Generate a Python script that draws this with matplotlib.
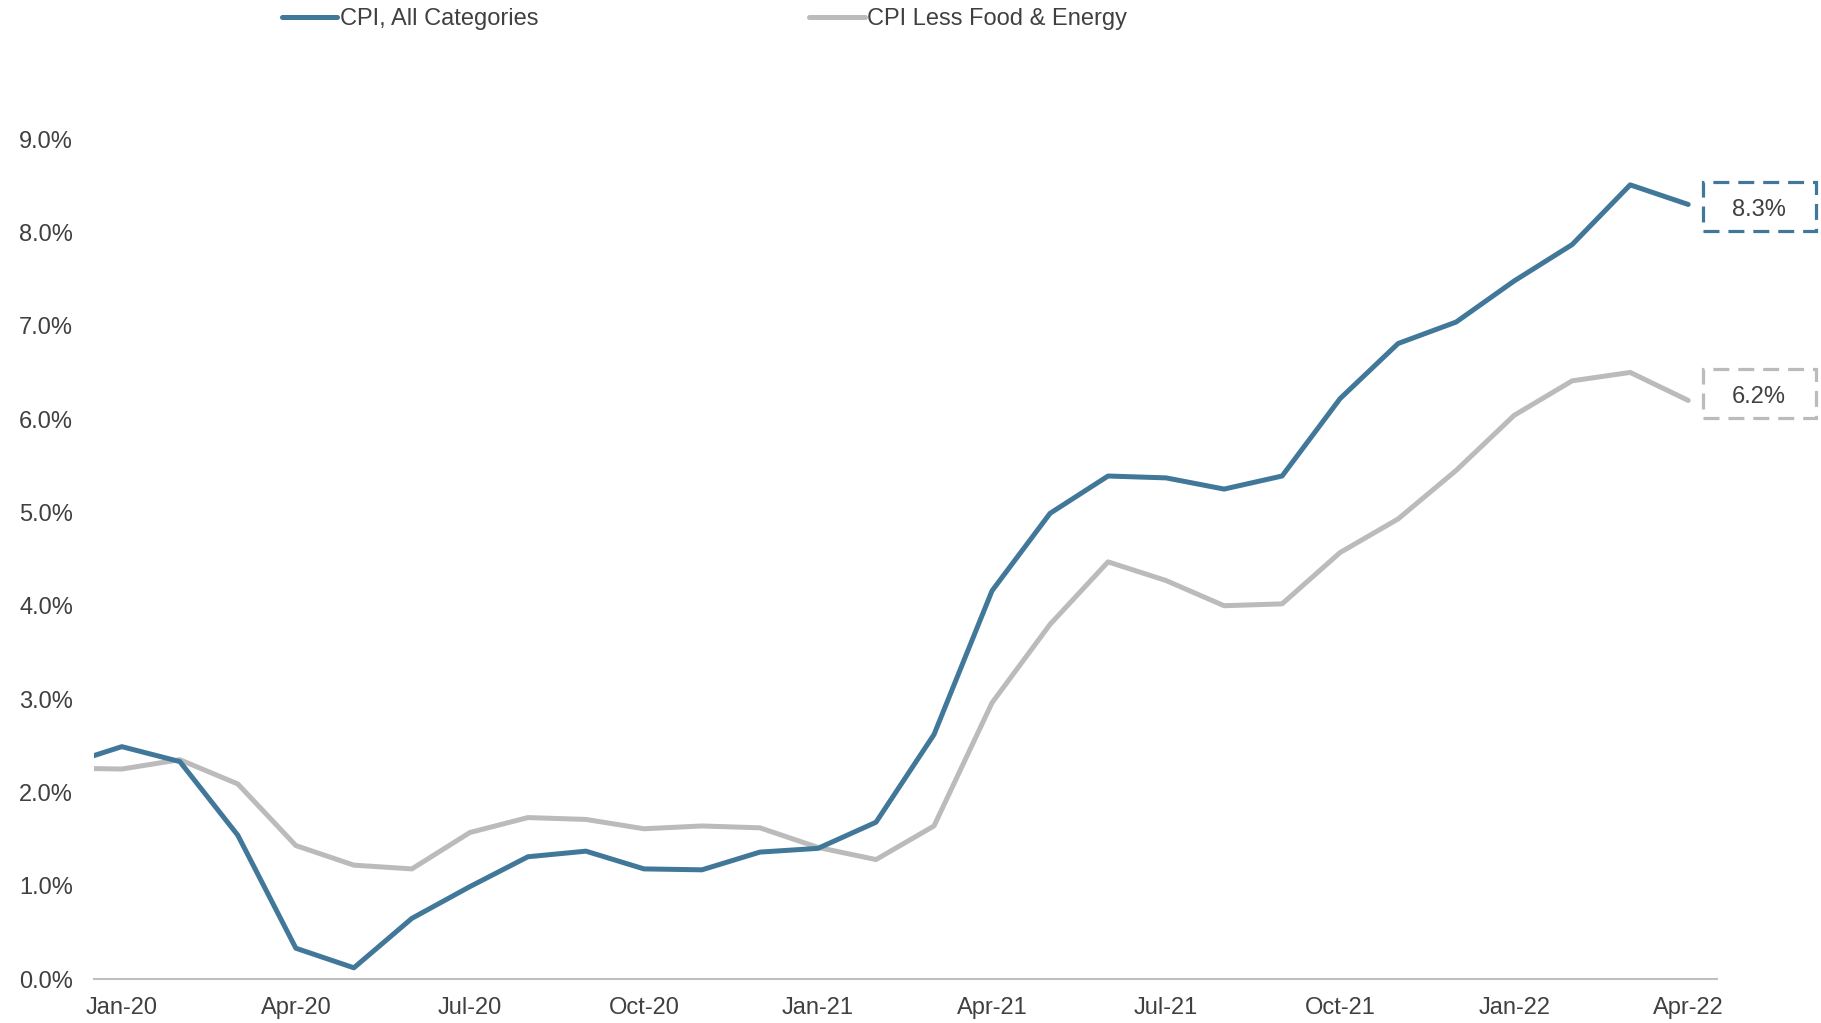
import matplotlib
matplotlib.use("Agg")
import matplotlib.pyplot as plt
from matplotlib.ticker import FuncFormatter
from matplotlib.patches import Rectangle
from matplotlib.transforms import IdentityTransform

plt.rcParams['font.family'] = ['Liberation Sans', 'DejaVu Sans']

# monthly data, Dec-19 .. Apr-22 (Dec-19 only used so the line runs into the left edge)
months = ["Dec-19",
          "Jan-20", "Feb-20", "Mar-20", "Apr-20", "May-20", "Jun-20", "Jul-20", "Aug-20",
          "Sep-20", "Oct-20", "Nov-20", "Dec-20",
          "Jan-21", "Feb-21", "Mar-21", "Apr-21", "May-21", "Jun-21", "Jul-21", "Aug-21",
          "Sep-21", "Oct-21", "Nov-21", "Dec-21",
          "Jan-22", "Feb-22", "Mar-22", "Apr-22"]
cpi_all = [2.29,
           2.49, 2.33, 1.54, 0.33, 0.12, 0.65, 0.99, 1.31, 1.37, 1.18, 1.17, 1.36,
           1.40, 1.68, 2.62, 4.16, 4.99, 5.39, 5.37, 5.25, 5.39, 6.22, 6.81, 7.04,
           7.48, 7.87, 8.51, 8.30]
cpi_core = [2.26,
            2.25, 2.35, 2.09, 1.43, 1.22, 1.18, 1.57, 1.73, 1.71, 1.61, 1.64, 1.62,
            1.41, 1.28, 1.64, 2.96, 3.80, 4.47, 4.27, 4.00, 4.02, 4.57, 4.93, 5.45,
            6.04, 6.41, 6.50, 6.20]
tick_labels = ["Jan-20", "Apr-20", "Jul-20", "Oct-20", "Jan-21", "Apr-21",
               "Jul-21", "Oct-21", "Jan-22", "Apr-22"]

blue = "#41789A"
gray = "#BBBBBB"
txt = "#404040"
fs = 17

x = list(range(-1, len(months) - 1))  # Jan-20 -> 0

fig = plt.figure(figsize=(18.21, 10.23), dpi=100)
ax = fig.add_axes([0.0516, 0.043, 0.8914, 0.821])

l1, = ax.plot(x, cpi_all, color=blue, lw=3.6, solid_capstyle='round', solid_joinstyle='round',
              label="CPI, All Categories", zorder=3)
l2, = ax.plot(x, cpi_core, color=gray, lw=3.6, solid_capstyle='round', solid_joinstyle='round',
              label="CPI Less Food & Energy", zorder=2)

ax.set_xlim(-0.48, 27.5)
ax.set_ylim(0, 9)
ax.set_yticks([i for i in range(10)])
ax.yaxis.set_major_formatter(FuncFormatter(lambda v, p: f"{v:.1f}%"))
ax.set_xticks([months.index(t) - 1 for t in tick_labels])
ax.set_xticklabels(tick_labels)
ax.tick_params(axis='both', length=0, labelsize=fs, labelcolor=txt)
ax.tick_params(axis='y', pad=15)
ax.tick_params(axis='x', pad=13)
for s in ["top", "right", "left"]:
    ax.spines[s].set_visible(False)
ax.spines["bottom"].set_color("#BFBFBF")
ax.spines["bottom"].set_linewidth(1.5)

# end value boxes (drawn in pixel coords, figure saved at same dpi)
for val, col, dy in [(cpi_all[-1], blue, -2), (cpi_core[-1], gray, 7)]:
    px, py = ax.transData.transform((x[-1], val))
    cx, cy = px + 71, py + dy
    w, h = 113, 49
    ax.add_patch(Rectangle((cx - w / 2, cy - h / 2), w, h, transform=IdentityTransform(),
                           fill=False, ec=col, lw=2.3, ls=(0, (5, 2.8)), clip_on=False))
    ax.text(cx, cy - 1, f"{val:.1f}%", transform=IdentityTransform(), ha="center",
            va="center_baseline", fontsize=fs, color=txt, clip_on=False)

fig.legend(handles=[l1, l2], loc="center left", bbox_to_anchor=(282 / 1821, 1 - 19 / 1023),
           ncol=2, frameon=False, fontsize=fs, labelcolor=txt, handlelength=2.35,
           handletextpad=0.12, columnspacing=11.45, borderpad=0, borderaxespad=0)

fig.savefig("out.png", dpi=100)
